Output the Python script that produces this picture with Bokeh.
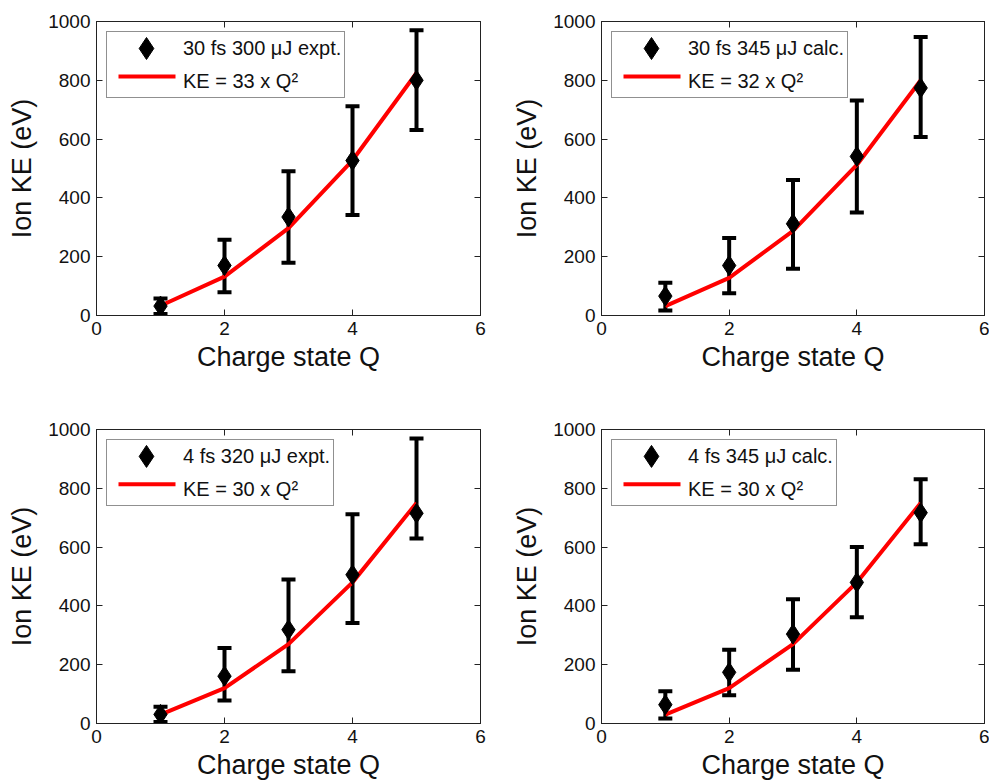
from bokeh.plotting import figure
from bokeh.models import (ColumnDataSource, Range1d, LinearAxis, Whisker, TeeHead,
                          Legend, LegendItem, FixedTicker)
from bokeh.layouts import column, row
from bokeh.embed import file_html
from bokeh.resources import INLINE

# Charge states
charge = [1, 2, 3, 4, 5]

# Panel labels and fit coefficients (KE = a x Q^2)
labels = ["30 fs 300 \u03bcJ expt.", "30 fs 345 \u03bcJ calc.",
          "4 fs 320 \u03bcJ expt.", "4 fs 345 \u03bcJ calc."]
fit_coef = [33, 32, 30, 30]

# Mean ion kinetic energies (eV)
ke_30fs_expt = [32, 170, 335, 527, 800]
ke_30fs_calc = [66, 170, 312, 541, 774]
ke_4fs_expt = [31, 161, 319, 506, 715]
ke_4fs_calc = [64, 174, 304, 480, 717]

# Error bar limits (eV)
lo_30fs_expt = [5, 79, 179, 342, 631]
hi_30fs_expt = [58, 258, 491, 712, 970]
lo_30fs_calc = [17, 76, 159, 350, 607]
hi_30fs_calc = [111, 264, 461, 731, 947]
lo_4fs_expt = [5, 78, 178, 342, 629]
hi_4fs_expt = [57, 257, 490, 712, 969]
lo_4fs_calc = [17, 96, 183, 361, 610]
hi_4fs_calc = [110, 251, 423, 600, 831]

# Fit curves KE = a x Q^2 evaluated at each charge state
fit_33 = [33, 132, 297, 528, 825]
fit_32 = [32, 128, 288, 512, 800]
fit_30 = [30, 120, 270, 480, 750]

x_ticks = [0, 2, 4, 6]
y_ticks = [0, 200, 400, 600, 800, 1000]

FONT = "Liberation Sans"
INK = "#111111"


def style_axis(ax, ticks, show_labels=True):
    ax.ticker = FixedTicker(ticks=ticks)
    ax.major_tick_in = 6
    ax.major_tick_out = 0
    ax.minor_tick_line_color = None
    ax.major_tick_line_color = "#222222"
    ax.axis_line_color = "#222222"
    ax.major_label_text_font = FONT
    ax.major_label_text_color = INK
    ax.axis_label_text_font = FONT
    ax.axis_label_text_font_style = "normal"
    ax.axis_label_text_color = INK
    if not show_labels:
        # tick marks only, labels are not painted
        ax.major_label_text_color = None
        ax.major_label_text_alpha = 0
        ax.major_label_text_font_size = "1px"
        ax.major_label_standoff = 0


def panel(ke, lo, hi, fit, label, coef, width, height, border_right, border_bottom):
    fw = width - 96 - border_right
    fh = height - 21 - border_bottom
    p = figure(width=width, height=height, output_backend="svg", toolbar_location=None,
               x_range=Range1d(0, 6), y_range=Range1d(0, 1000),
               min_border_left=96, min_border_right=border_right,
               min_border_top=21, min_border_bottom=border_bottom)
    # pixel-based ranges (origin at the frame's top-left) for the legend keys
    p.extra_x_ranges = {"px": Range1d(0, fw)}
    p.extra_y_ranges = {"py": Range1d(fh, 0)}
    p.background_fill_color = "white"
    p.border_fill_color = "white"
    p.outline_line_color = "#222222"
    p.outline_line_width = 1
    p.grid.visible = False

    src = ColumnDataSource(dict(q=charge, ke=ke, lo=lo, hi=hi, fit=fit))

    # Fit curve beneath the markers
    p.line("q", "fit", source=src, line_color="#ff0000", line_width=4)

    # Error bars
    w = Whisker(source=src, base="q", lower="lo", upper="hi",
                line_color="black", line_width=4,
                upper_head=TeeHead(size=14, line_color="black", line_width=4),
                lower_head=TeeHead(size=14, line_color="black", line_width=4))
    p.add_layout(w)

    p.scatter("q", "ke", source=src, marker="diamond", size=20,
              fill_color="black", line_color="black")

    # Axes
    p.xaxis.axis_label = "Charge state Q"
    p.yaxis.axis_label = "Ion KE (eV)"
    for ax in p.xaxis:
        style_axis(ax, x_ticks)
    for ax in p.yaxis:
        style_axis(ax, y_ticks)
    for ax in p.xaxis + p.yaxis:
        ax.major_label_text_font_size = "19px"
        ax.axis_label_text_font_size = "27px"
    p.xaxis.major_label_standoff = 6
    p.xaxis.axis_label_standoff = 4
    p.yaxis.major_label_standoff = 6
    p.yaxis.axis_label_standoff = 8

    top = LinearAxis()
    right = LinearAxis()
    style_axis(top, x_ticks, show_labels=False)
    style_axis(right, y_ticks, show_labels=False)
    p.add_layout(top, "above")
    p.add_layout(right, "right")

    # Legend box and labels; the keys themselves are drawn in pixel space below
    key_pts = p.scatter(x=[], y=[], marker="diamond", fill_alpha=0, line_alpha=0)
    key_ln = p.line(x=[], y=[], line_alpha=0)
    legend = Legend(items=[LegendItem(label=label, renderers=[key_pts]),
                           LegendItem(label="KE = %d x Q\u00b2" % coef, renderers=[key_ln])],
                    location="top_left", margin=10, padding=3, spacing=7,
                    glyph_width=66, glyph_height=26, label_height=26,
                    label_standoff=7,
                    label_text_font=FONT, label_text_font_size="20px",
                    label_text_color=INK,
                    border_line_color="#222222", border_line_width=1,
                    background_fill_alpha=0)
    p.add_layout(legend)
    p.scatter(x=[50], y=[27], x_range_name="px", y_range_name="py",
              marker="diamond", size=22, fill_color="black", line_color="black")
    p.segment(x0=[22], y0=[55], x1=[79], y1=[55], x_range_name="px", y_range_name="py",
              line_color="#ff0000", line_width=4)
    return p


p1 = panel(ke_30fs_expt, lo_30fs_expt, hi_30fs_expt, fit_33, labels[0], fit_coef[0], 505, 408, 25, 93)
p2 = panel(ke_30fs_calc, lo_30fs_calc, hi_30fs_calc, fit_32, labels[1], fit_coef[1], 484, 408, 5, 93)
p3 = panel(ke_4fs_expt, lo_4fs_expt, hi_4fs_expt, fit_30, labels[2], fit_coef[2], 505, 374, 25, 58)
p4 = panel(ke_4fs_calc, lo_4fs_calc, hi_4fs_calc, fit_30, labels[3], fit_coef[3], 484, 374, 5, 58)

layout = column(row(p1, p2), row(p3, p4))

open("out.html", "w").write(file_html(layout, INLINE))
